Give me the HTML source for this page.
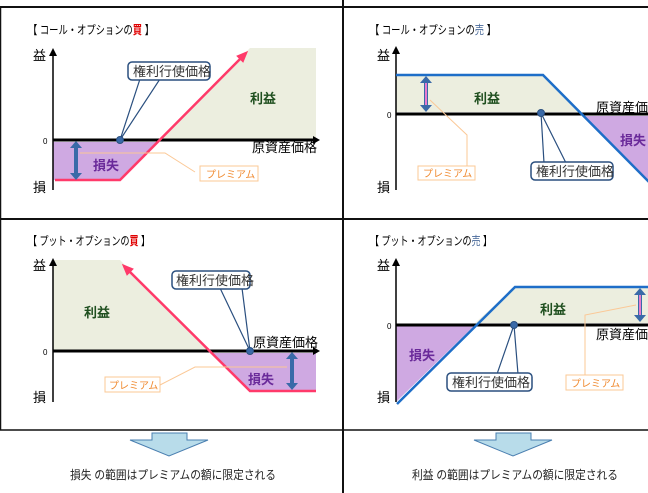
<!DOCTYPE html>
<html><head><meta charset="utf-8"><style>
html,body{margin:0;padding:0;background:#fff}
svg{display:block}
text{font-family:"Liberation Sans","Noto Sans CJK JP",sans-serif}
</style></head><body>
<svg width="648" height="493" viewBox="0 0 648 493" xmlns="http://www.w3.org/2000/svg">
<defs>
<marker id="ar" markerWidth="8" markerHeight="8" refX="6" refY="4" orient="auto" markerUnits="userSpaceOnUse"><path d="M0,0 L8,4 L0,8 z" fill="#000"/></marker>
<marker id="pk" markerWidth="12" markerHeight="10" refX="9" refY="5" orient="auto" markerUnits="userSpaceOnUse"><path d="M0,0 L12,5 L0,10 z" fill="#ff3a6a"/></marker>
</defs>
<line x1="0" y1="7" x2="648" y2="7" stroke="#111" stroke-width="2"/>
<line x1="0" y1="219" x2="648" y2="219" stroke="#111" stroke-width="2"/>
<line x1="0" y1="430" x2="648" y2="430" stroke="#111" stroke-width="1.5"/>
<line x1="343" y1="0" x2="343" y2="493" stroke="#111" stroke-width="2"/>
<line x1="0.5" y1="7" x2="0.5" y2="430" stroke="#111" stroke-width="1.5"/>

<g font-size="12">
<!-- Panel 1 -->
<text x="28" y="34" font-size="12" textLength="126" lengthAdjust="spacingAndGlyphs">【 コール・オプションの<tspan fill="#e00000" font-weight="bold">買</tspan> 】</text>
<polygon points="160,140 250,48 316,48 316,140" fill="#eceedf"/>
<polygon points="53,142 157,142 120,180 53,180" fill="#cfa9e2"/>
<line x1="53" y1="190" x2="53" y2="50" stroke="#000" stroke-width="1.5" marker-end="url(#ar)"/>
<line x1="53" y1="140" x2="313" y2="140" stroke="#000" stroke-width="3"/>
<path d="M313,136 L320,140 L313,144z" fill="#000"/>
<text x="33" y="60" font-size="13">益</text><text x="33" y="192" font-size="13">損</text>
<text x="43" y="144" font-size="8">0</text>
<polyline points="55,180 120,180 246,53" fill="none" stroke="#ff3a6a" stroke-width="2.5" marker-end="url(#pk)"/>
<line x1="76" y1="146" x2="76" y2="175" stroke="#3a6aa8" stroke-width="4"/>
<path d="M70,148 L76,141 L82,148z M70,173 L76,180 L82,173z" fill="#3a6aa8"/>
<text x="93" y="170" font-size="13" font-weight="bold" fill="#6a2a9a">損失</text>
<text x="250" y="103" font-size="13" font-weight="bold" fill="#1f4f1f">利益</text>
<text x="252" y="152" font-size="13">原資産価格</text>
<polyline points="80,153 165,153 195,172" fill="none" stroke="#fbc896" stroke-width="1"/>
<rect x="200" y="166" width="58" height="15" fill="#fff" stroke="#fbc896"/>
<text x="206" y="178" font-size="10" fill="#f08a30">プレミアム</text>
<polygon points="120,140 140,79 160,79" fill="#fff" stroke="#2a4f7f" stroke-width="1.2"/>
<rect x="128" y="62" width="82" height="18" rx="4" fill="#fff" stroke="#2a4f7f" stroke-width="1.5"/>
<text x="133" y="76" font-size="13" fill="#333">権利行使価格</text>
<circle cx="120" cy="140" r="3.5" fill="#3a6aa8" stroke="#2a4f7f"/>

<!-- Panel 2 -->
<text x="370" y="34" font-size="12" textLength="126" lengthAdjust="spacingAndGlyphs">【 コール・オプションの<tspan fill="#4a6a9a">売</tspan> 】</text>
<polygon points="396,76 543,76 580,112 396,112" fill="#eceedf"/>
<polygon points="583,116 648,116 648,180" fill="#cfa9e2"/>
<line x1="396" y1="190" x2="396" y2="48" stroke="#000" stroke-width="1.5" marker-end="url(#ar)"/>
<line x1="396" y1="114" x2="648" y2="114" stroke="#000" stroke-width="3"/>
<text x="377" y="60" font-size="13">益</text><text x="377" y="192" font-size="13">損</text>
<text x="387" y="118" font-size="8">0</text>
<polyline points="396,75 543,75 650,183" fill="none" stroke="#1e6ec8" stroke-width="2.5"/>
<line x1="426" y1="81" x2="426" y2="107" stroke="#3a6aa8" stroke-width="4"/>
<line x1="426" y1="82" x2="426" y2="106" stroke="#e77ad0" stroke-width="2"/>
<path d="M420,83 L426,76 L432,83z M420,105 L426,112 L432,105z" fill="#3a6aa8"/>
<text x="474" y="103" font-size="13" font-weight="bold" fill="#1f4f1f">利益</text>
<text x="596" y="112" font-size="13">原資産価格</text>
<text x="620" y="145" font-size="13" font-weight="bold" fill="#6a2a9a">損失</text>
<polyline points="430,100 467,135 467,166" fill="none" stroke="#fbc896" stroke-width="1"/>
<rect x="418" y="166" width="57" height="14" fill="#fff" stroke="#fbc896"/>
<text x="423" y="177" font-size="10" fill="#f08a30">プレミアム</text>
<polygon points="541,113 544,163 566,163" fill="#fff" stroke="#2a4f7f" stroke-width="1.2"/>
<rect x="531" y="162" width="82" height="18" rx="4" fill="#fff" stroke="#2a4f7f" stroke-width="1.5"/>
<text x="536" y="176" font-size="13" fill="#333">権利行使価格</text>
<circle cx="541" cy="113" r="3.5" fill="#3a6aa8" stroke="#2a4f7f"/>

<!-- Panel 3 -->
<text x="28" y="245" font-size="12" textLength="122" lengthAdjust="spacingAndGlyphs">【 プット・オプションの<tspan fill="#e00000" font-weight="bold">買</tspan> 】</text>
<polygon points="53,260 120,260 210,351 53,351" fill="#eceedf"/>
<polygon points="212,353 316,353 316,390 250,390" fill="#cfa9e2"/>
<line x1="53" y1="402" x2="53" y2="260" stroke="#000" stroke-width="1.5" marker-end="url(#ar)"/>
<line x1="53" y1="351" x2="313" y2="351" stroke="#000" stroke-width="3"/>
<path d="M313,347 L320,351 L313,355z" fill="#000"/>
<text x="33" y="270" font-size="13">益</text><text x="33" y="402" font-size="13">損</text>
<text x="43" y="355" font-size="8">0</text>
<polyline points="316,391 250,391 124,266" fill="none" stroke="#ff3a6a" stroke-width="2.5" marker-end="url(#pk)"/>
<line x1="292" y1="358" x2="292" y2="385" stroke="#3a6aa8" stroke-width="4"/>
<path d="M286,359 L292,352 L298,359z M286,383 L292,390 L298,383z" fill="#3a6aa8"/>
<text x="84" y="317" font-size="13" font-weight="bold" fill="#1f4f1f">利益</text>
<text x="248" y="384" font-size="13" font-weight="bold" fill="#6a2a9a">損失</text>
<text x="253" y="347" font-size="13">原資産価格</text>
<polyline points="287,367 195,367 160,385" fill="none" stroke="#fbc896" stroke-width="1"/>
<rect x="105" y="377" width="55" height="15" fill="#fff" stroke="#fbc896"/>
<text x="109" y="389" font-size="10" fill="#f08a30">プレミアム</text>
<polygon points="250,351 220,288 242,288" fill="#fff" stroke="#2a4f7f" stroke-width="1.2"/>
<rect x="172" y="271" width="78" height="18" rx="4" fill="#fff" stroke="#2a4f7f" stroke-width="1.5"/>
<text x="176" y="285" font-size="13" fill="#333">権利行使価格</text>
<circle cx="250" cy="351" r="3.5" fill="#3a6aa8" stroke="#2a4f7f"/>

<!-- Panel 4 -->
<text x="370" y="245" font-size="12" textLength="122" lengthAdjust="spacingAndGlyphs">【 プット・オプションの<tspan fill="#4a6a9a">売</tspan> 】</text>
<polygon points="396,325 475,325 396,402" fill="#cfa9e2"/>
<polygon points="475,323 515,287 648,287 648,323" fill="#eceedf"/>
<line x1="396" y1="402" x2="396" y2="260" stroke="#000" stroke-width="1.5" marker-end="url(#ar)"/>
<line x1="396" y1="325" x2="648" y2="325" stroke="#000" stroke-width="3"/>
<text x="377" y="270" font-size="13">益</text><text x="377" y="402" font-size="13">損</text>
<text x="387" y="329" font-size="8">0</text>
<polyline points="397,404 515,287 648,287" fill="none" stroke="#1e6ec8" stroke-width="2.5"/>
<line x1="640" y1="293" x2="640" y2="317" stroke="#3a6aa8" stroke-width="4"/>
<line x1="640" y1="294" x2="640" y2="316" stroke="#e77ad0" stroke-width="2"/>
<path d="M634,295 L640,288 L646,295z M634,315 L640,322 L646,315z" fill="#3a6aa8"/>
<text x="409" y="360" font-size="13" font-weight="bold" fill="#6a2a9a">損失</text>
<text x="540" y="314" font-size="13" font-weight="bold" fill="#1f4f1f">利益</text>
<text x="596" y="339" font-size="13">原資産価格</text>
<polyline points="636,305 585,315 585,375" fill="none" stroke="#fbc896" stroke-width="1"/>
<rect x="566" y="375" width="57" height="15" fill="#fff" stroke="#fbc896"/>
<text x="571" y="387" font-size="10" fill="#f08a30">プレミアム</text>
<polygon points="514,325 497,374 518,374" fill="#fff" stroke="#2a4f7f" stroke-width="1.2"/>
<rect x="447" y="373" width="85" height="18" rx="4" fill="#fff" stroke="#2a4f7f" stroke-width="1.5"/>
<text x="452" y="387" font-size="13" fill="#333">権利行使価格</text>
<circle cx="514" cy="325" r="3.5" fill="#3a6aa8" stroke="#2a4f7f"/>

<!-- Bottom arrows -->
<polygon points="152,433 187,433 187,440 208,440 169,456 130,440 152,440" fill="#b8dcea" stroke="#4a7fb0" stroke-width="1"/>
<text x="70" y="479" font-size="12" textLength="206" lengthAdjust="spacingAndGlyphs" fill="#222">損失 の範囲はプレミアムの額に限定される</text>
<polygon points="496,433 531,433 531,440 552,440 513,456 474,440 496,440" fill="#b8dcea" stroke="#4a7fb0" stroke-width="1"/>
<text x="412" y="479" font-size="12" textLength="206" lengthAdjust="spacingAndGlyphs" fill="#222">利益 の範囲はプレミアムの額に限定される</text>
</g>
</svg>
</body></html>
